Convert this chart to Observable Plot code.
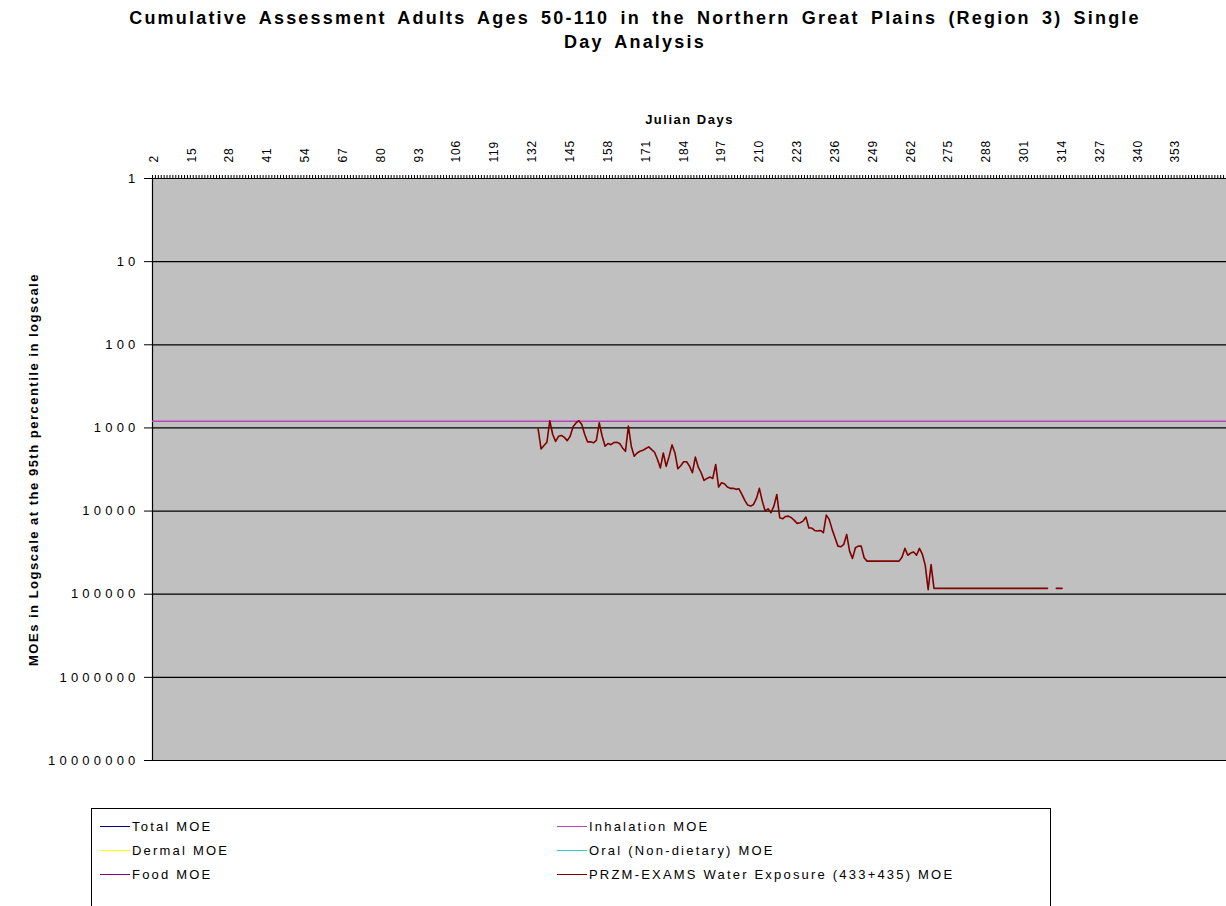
<!DOCTYPE html>
<html>
<head>
<meta charset="utf-8">
<script src="https://cdn.jsdelivr.net/npm/d3@7"></script>
<script src="https://cdn.jsdelivr.net/npm/@observablehq/plot@0.6"></script>
<style>
  html, body { margin: 0; padding: 0; background: #fff; }
  body { width: 1226px; height: 906px; overflow: hidden; position: relative;
         font-family: "Liberation Sans", Arial, sans-serif; color: #000; }
  #title { position: absolute; left: 0; top: 6px; width: 1270px; text-align: center;
           font-weight: bold; font-size: 18px; letter-spacing: 2.2px; word-spacing: 4px;
           line-height: 24px; white-space: nowrap; }
  #chart { position: absolute; left: 0; top: 60px; }
  #legend { position: absolute; left: 91px; top: 808px; width: 960px; height: 110px;
            border: 1px solid #000; box-sizing: border-box; background: #fff; }
  .item { position: absolute; font-size: 13px; letter-spacing: 2.2px; white-space: nowrap; line-height: 16px; }
  .sw { display: inline-block; width: 30px; height: 0; border-top: 1.5px solid; vertical-align: middle; margin-right: 2px; position: relative; top: -1px; }
</style>
</head>
<body>
<div id="title"></div>
<div id="chart"></div>
<div id="legend"></div>
<script>
// ---- Data ----
const titleLines = [
  "Cumulative Assessment Adults Ages 50-110 in the Northern Great Plains (Region 3) Single",
  "Day Analysis"
];
const xLabel = "Julian Days";
const yLabel = "MOEs in Logscale at the 95th percentile in logscale";

// category tick labels shown on the top axis
const labelDays = [2, 15, 28, 41, 54, 67, 80, 93, 106, 119, 132, 145, 158, 171, 184, 197, 210,
                   223, 236, 249, 262, 275, 288, 301, 314, 327, 340, 353];
const yTicks = [1, 10, 100, 1000, 10000, 100000, 1000000, 10000000];

// series names and colours (legend order)
const seriesNames = ["Total MOE", "Inhalation MOE", "Dermal MOE", "Oral (Non-dietary) MOE",
                     "Food MOE", "PRZM-EXAMS Water Exposure (433+435) MOE"];
const seriesColors = ["#000080", "#b844b8", "#ffff00", "#33cccc", "#800080", "#800000"];

// Inhalation MOE: constant across all days
const inhalationMOE = 830;

// PRZM-EXAMS water exposure MOE, one value per Julian day starting at day 134 (null = no value)
const waterStartDay = 134;
const waterMOE = [
  1030, 1790, 1630, 1490, 820, 1200, 1450, 1260, 1230, 1300,      // 134-143
  1420, 1260, 970, 870, 820, 910, 1200, 1470, 1470, 1510,         // 144-153
  1410, 870, 1260, 1660, 1540, 1590, 1500, 1490, 1540, 1740,      // 154-163
  1910, 950, 1660, 2190, 2000, 1910, 1860, 1770, 1690, 1820,      // 164-173
  1960, 2400, 3030, 2000, 2900, 2200, 1600, 2000, 3100, 2850,     // 174-183
  2550, 2550, 2880, 3460, 2240, 2960, 3460, 4280, 4050, 3900,     // 184-193
  4050, 2750, 5140, 4560, 4690, 5140, 5330, 5330, 5480, 5400,     // 194-203
  6310, 7450, 8470, 8710, 8320, 7050, 5330, 7590, 10000, 9380,    // 204-213
  10470, 8710, 6310, 12030, 12370, 11600, 11500, 12030, 12950, 14070, // 214-223
  13800, 13200, 11800, 16000, 16000, 17100, 17400, 17100, 18200, 11200, // 224-233
  12600, 16600, 20900, 26400, 26900, 25200, 19100, 30300, 37100, 27600, // 234-243
  26400, 26400, 36400, 40000, 40000, 40000, 40000, 40000, 40000, 40000, // 244-253
  40000, 40000, 40000, 40000, 40000, 36000, 28100, 34000, 32000, 31000, // 254-263
  34000, 28100, 33000, 45000, 88000, 44000, 85000, 85000, 85000, 85000, // 264-273
  85000, 85000, 85000, 85000, 85000, 85000, 85000, 85000, 85000, 85000, // 274-283
  85000, 85000, 85000, 85000, 85000, 85000, 85000, 85000, 85000, 85000, // 284-293
  85000, 85000, 85000, 85000, 85000, 85000, 85000, 85000, 85000, 85000, // 294-303
  85000, 85000, 85000, 85000, 85000, 85000, null, null, 85000, 85000,   // 304-313
  85000                                                                  // 314
];

// ---- Build table ----
const water = waterMOE.map((v, i) => ({day: waterStartDay + i, moe: v}));
const firstCategory = 2, lastCategory = 370;
const categoryBoundaries = d3.range(firstCategory - 0.5, lastCategory + 1, 1);

// ---- Title ----
document.getElementById("title").innerHTML = titleLines.join("<br>");

// ---- Chart ----
const font = "'Liberation Sans', Arial, sans-serif";
const chart = Plot.plot({
  width: 1226,
  height: 715,
  marginTop: 118,
  marginBottom: 15,
  marginLeft: 152,
  marginRight: 0,
  style: {fontFamily: font, background: "transparent", color: "#000", overflow: "visible"},
  x: {domain: [firstCategory - 0.5, lastCategory + 0.5]},
  y: {type: "log", domain: [1, 1e7], reverse: true},
  marks: [
    Plot.frame({fill: "#c0c0c0", stroke: null}),
    Plot.ruleY(yTicks, {stroke: "#000", strokeWidth: 1.2}),
    Plot.ruleX([firstCategory - 0.5], {stroke: "#000", strokeWidth: 1.2}),
    Plot.axisY({ticks: yTicks, tickSize: 8, tickPadding: 5, tickFormat: d => String(d),
                fontSize: 13, label: null, stroke: "#000"}),
    Plot.axisX({anchor: "top", ticks: categoryBoundaries, tickSize: 4, tickFormat: () => "",
                label: null, stroke: "#000"}),
    Plot.axisX({anchor: "top", ticks: labelDays, tickSize: 0, tickPadding: 16, tickRotate: -90,
                fontSize: 12, label: null, tickFormat: d => String(d)}),
    Plot.ruleY([inhalationMOE], {stroke: seriesColors[1], strokeWidth: 1.5}),
    Plot.line(water, {x: "day", y: "moe", stroke: seriesColors[5], strokeWidth: 1.6}),
    Plot.text([xLabel], {frameAnchor: "top", dy: -64, text: d => d, fontWeight: "bold", fontSize: 13}),
    Plot.text([yLabel], {frameAnchor: "left", dx: -119, rotate: -90, text: d => d,
                         textAnchor: "middle", fontWeight: "bold", fontSize: 13})
  ]
});
document.getElementById("chart").appendChild(chart);

// letter spacing to mimic the original rendering
d3.select(chart).selectAll("g[aria-label='y-axis tick label'] text").attr("letter-spacing", "4.2px");
d3.select(chart).selectAll("g[aria-label='x-axis tick label'] text").attr("letter-spacing", "0.8px");
d3.select(chart).selectAll("g[aria-label='text'] text").attr("letter-spacing", "1.5px");

// ---- Legend ----
const legend = document.getElementById("legend");
const colX = [8, 465];
const rowY = [10, 34, 58];
seriesNames.forEach((name, i) => {
  const col = i % 2, row = Math.floor(i / 2);
  const div = document.createElement("div");
  div.className = "item";
  div.style.left = colX[col] + "px";
  div.style.top = rowY[row] + "px";
  div.innerHTML = `<span class="sw" style="border-color:${seriesColors[i]}"></span>${name}`;
  legend.appendChild(div);
});
</script>
</body>
</html>
